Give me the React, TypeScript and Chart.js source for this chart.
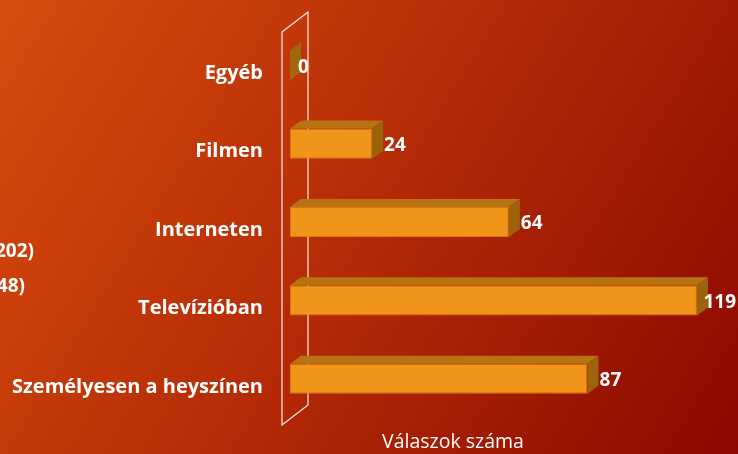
import React, { useEffect, useRef } from "react";
import { Chart, registerables } from "chart.js";

Chart.register(...registerables);

const categories = ["Egyéb", "Filmen", "Interneten", "Televízióban", "Személyesen a heyszínen"];
const values = [0, 24, 64, 119, 87];
const axisTitle = "Válaszok száma";
const sideTexts = ["(202)", "(48)"];

const FONT = "'Open Sans', 'DejaVu Sans', sans-serif";
const DX = 11;
const DY = -8;

const bgPlugin = {
  id: "bg",
  beforeDraw(chart: any) {
    const { ctx, width, height } = chart;
    ctx.save();
    const g = ctx.createLinearGradient(0, 0, width, height);
    g.addColorStop(0, "#d84c0c");
    g.addColorStop(0.5, "#b42a06");
    g.addColorStop(1, "#8c0800");
    ctx.fillStyle = g;
    ctx.fillRect(0, 0, width, height);
    ctx.fillStyle = "#ffffff";
    ctx.font = `bold 19px ${FONT}`;
    ctx.textAlign = "right";
    ctx.textBaseline = "middle";
    ctx.fillText(sideTexts[0], 34, 252);
    ctx.fillText(sideTexts[1], 25, 287);
    ctx.restore();
  },
  beforeDatasetsDraw(chart: any) {
    const { ctx, chartArea } = chart;
    const l = chartArea.left;
    const x1 = l - 8;
    const x2 = x1 + 26;
    const yTop = chartArea.top + 6;
    const yBot = chartArea.bottom + 7;
    ctx.save();
    ctx.strokeStyle = "rgba(255,255,255,0.9)";
    ctx.lineWidth = 1.2;
    ctx.beginPath();
    ctx.moveTo(x1, yTop);
    ctx.lineTo(x2, yTop - 20);
    ctx.lineTo(x2, yBot - 20);
    ctx.lineTo(x1, yBot);
    ctx.closePath();
    ctx.stroke();
    ctx.restore();
  },
  afterDatasetsDraw(chart: any) {
    const { ctx } = chart;
    const meta = chart.getDatasetMeta(0);
    ctx.save();
    meta.data.forEach((bar: any, i: number) => {
      const { x, y, base, height } = bar.getProps(["x", "y", "base", "height"], true);
      const top = y - height / 2;
      const bottom = y + height / 2;
      const right = Math.max(x, base);
      ctx.fillStyle = "#b97212";
      ctx.beginPath();
      ctx.moveTo(base, top);
      ctx.lineTo(base + DX, top + DY);
      ctx.lineTo(right + DX, top + DY);
      ctx.lineTo(right, top);
      ctx.closePath();
      ctx.fill();
      ctx.fillStyle = values[i] === 0 ? "#a2680e" : "#9c620c";
      ctx.beginPath();
      ctx.moveTo(right, top);
      ctx.lineTo(right + DX, top + DY);
      ctx.lineTo(right + DX, bottom + DY);
      ctx.lineTo(right, bottom);
      ctx.closePath();
      ctx.fill();
      ctx.fillStyle = "#ffffff";
      ctx.font = `bold 19px ${FONT}`;
      ctx.textAlign = "left";
      ctx.textBaseline = "middle";
      const txt = String(values[i]);
      const w = ctx.measureText(txt).width;
      let tx = right + (values[i] === 0 ? 8 : 12);
      if (tx + w > chart.width - 2) tx = chart.width - 2 - w;
      ctx.fillText(txt, tx, y + 2);
    });
    ctx.restore();
  },
  afterDraw(chart: any) {
    const { ctx } = chart;
    ctx.save();
    ctx.fillStyle = "#ffffff";
    ctx.font = `19.5px ${FONT}`;
    ctx.textAlign = "center";
    ctx.textBaseline = "middle";
    ctx.fillText(axisTitle, 453, 442);
    ctx.restore();
  },
};

export default function App() {
  const ref = useRef<HTMLCanvasElement | null>(null);
  useEffect(() => {
    if (!ref.current) return;
    const chart = new Chart(ref.current, {
      type: "bar",
      data: {
        labels: categories,
        datasets: [
          {
            data: values,
            backgroundColor: "#f1941a",
            borderColor: "#d57a10",
            borderWidth: 1,
            borderSkipped: false,
            barPercentage: 0.4,
            categoryPercentage: 0.96,
          },
        ],
      },
      options: {
        indexAxis: "y",
        animation: false,
        responsive: false,
        maintainAspectRatio: false,
        layout: { padding: { top: 26, bottom: 36, left: 0, right: 0 } },
        plugins: { legend: { display: false }, tooltip: { enabled: false } },
        scales: {
          x: { display: false, min: 0, max: 131 },
          y: {
            grid: { display: false, drawTicks: false },
            border: { display: false },
            ticks: {
              color: "#ffffff",
              font: { family: FONT, size: 20, weight: "bold" },
              padding: 27,
              labelOffset: 8,
            },
            afterFit(scale: any) {
              scale.width = 290;
              scale.paddingTop = 0;
              scale.paddingBottom = 0;
            },
          },
        },
      },
      plugins: [bgPlugin],
    } as any);
    return () => chart.destroy();
  }, []);
  return (
    <div style={{ position: "fixed", left: 0, top: 0, width: 738, height: 454 }}>
      <canvas ref={ref} width={738} height={454} style={{ display: "block", width: 738, height: 454 }} />
    </div>
  );
}
